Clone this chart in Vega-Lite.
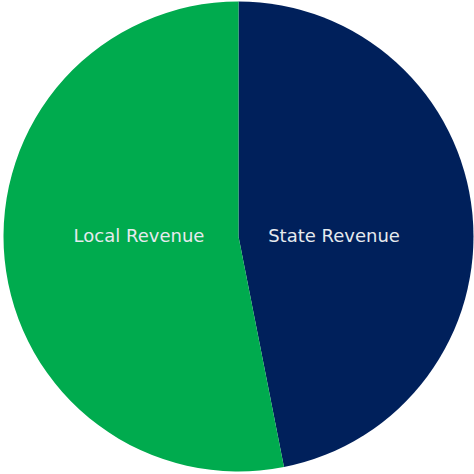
{
  "$schema": "https://vega.github.io/schema/vega-lite/v6.json",
  "width": 474,
  "height": 474,
  "autosize": {"type": "fit", "contains": "padding"},
  "padding": {"left": 3, "right": 0, "top": 0, "bottom": 1},
  "background": "white",
  "view": {"stroke": null},
  "data": {"values": [
    {"source": "State Revenue", "value": 46.9, "ord": 1},
    {"source": "Local Revenue", "value": 53.1, "ord": 2}
  ]},
  "encoding": {
    "theta": {"field": "value", "type": "quantitative", "stack": true},
    "order": {"field": "ord", "type": "quantitative"},
    "color": {"field": "source", "type": "nominal", "legend": null,
      "scale": {"domain": ["State Revenue", "Local Revenue"], "range": ["#00205b", "#00ab4e"]}}
  },
  "layer": [
    {"mark": {"type": "arc", "outerRadius": 235, "stroke": null}},
    {"mark": {"type": "text", "radius": 96, "dy": 10, "fontSize": 18, "font": "DejaVu Sans"},
     "encoding": {"text": {"condition": {"test": "datum.source === 'State Revenue'", "field": "source"}, "value": ""}, "color": {"value": "#e6eaee"}}},
    {"mark": {"type": "text", "radius": 100, "dy": -9, "fontSize": 18, "font": "DejaVu Sans"},
     "encoding": {"text": {"condition": {"test": "datum.source === 'Local Revenue'", "field": "source"}, "value": ""}, "color": {"value": "#e6eaee"}}}
  ]
}
